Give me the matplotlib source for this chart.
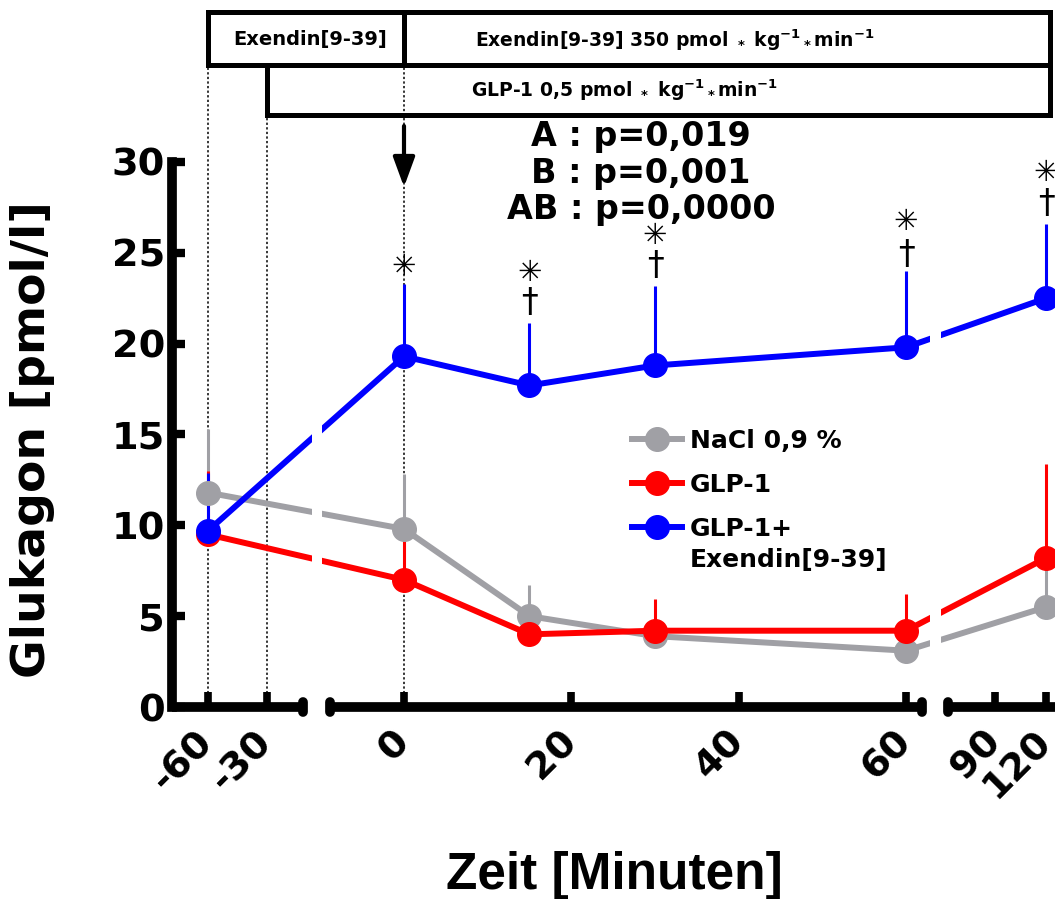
import matplotlib
matplotlib.use('Agg')
import matplotlib.pyplot as plt
import numpy as np
from matplotlib.patches import Rectangle
from matplotlib.transforms import blended_transform_factory

# Daten (Mittelwert + SEM nach oben)
zeit = [-60, 0, 15, 30, 60, 120]
nacl = [11.8, 9.8, 5.0, 3.9, 3.1, 5.5]
nacl_sem = [3.5, 3.0, 1.7, 0.4, 0.4, 2.5]
glp1 = [9.5, 7.0, 4.0, 4.2, 4.2, 8.2]
glp1_sem = [3.5, 2.8, 0.5, 1.75, 2.0, 5.2]
glp1_ex = [9.7, 19.3, 17.7, 18.8, 19.8, 22.5]
glp1_ex_sem = [3.2, 4.0, 3.45, 4.4, 4.2, 4.1]

xticks = [-60, -30, 0, 20, 40, 60, 90, 120]
xticklabels = ['-60', '-30', '0', '20', '40', '60', '90', '120']
yticks = [0, 5, 10, 15, 20, 25, 30]

# Signifikanzzeichen
stern_zeit = [0, 15, 30, 60, 120]
stern_y = [24.2, 23.9, 25.9, 26.7, 29.4]
kreuz_zeit = [15, 30, 60, 120]
kreuz_y = [22.25, 24.3, 24.9, 27.7]

W, H = 1055, 899
plt.rcParams['font.family'] = ['DejaVu Sans']
plt.rcParams['font.weight'] = 'bold'
plt.rcParams['mathtext.fontset'] = 'dejavusans'
plt.rcParams['mathtext.default'] = 'bf'

# gebrochene Zeitachse: Minuten -> Pixel
T = [-80, -60, -30, 0, 60, 90, 130]
P = [168.7, 208, 267, 404, 906, 995, 1063]


def fwd(t):
    return np.interp(t, T, P)


def inv(p):
    return np.interp(p, P, T)


def figy(py):
    return 1 - py / H


fig = plt.figure(figsize=(W / 100, H / 100), dpi=100)
ax = fig.add_axes([172 / W, figy(707), (1063 - 172) / W, (707 - 162) / H])
ax.set_xscale('function', functions=(fwd, inv))
ax.set_xlim(inv(172), 130)
ax.set_ylim(0, 30)

farben = {'nacl': '#a0a0a5', 'glp': '#ff0000', 'ex': '#0000ff'}
handles = []
for y, e, c in [(nacl, nacl_sem, farben['nacl']),
                (glp1, glp1_sem, farben['glp']),
                (glp1_ex, glp1_ex_sem, farben['ex'])]:
    cont = ax.errorbar(zeit, y, yerr=[np.zeros(len(e)), e], fmt='-o', color=c,
                       lw=4.3, ms=17, elinewidth=2.2, capsize=0, clip_on=False)
    handles.append(cont[0])

# Luecken in den Linien an den Achsenbruechen
ax.axvspan(inv(312), inv(322), color='white', zorder=3, lw=0)
ax.axvspan(inv(930), inv(941), color='white', zorder=3, lw=0)

# Achsen
for s in ['top', 'right', 'bottom']:
    ax.spines[s].set_visible(False)
ax.spines['left'].set_linewidth(7)
ax.spines['left'].set_capstyle('projecting')

for a, b in [(172, 303), (330, 922), (948, 1063)]:
    ax.plot([inv(a), inv(b)], [0, 0], color='k', lw=7, solid_capstyle='butt',
            clip_on=False, zorder=4)
for p in [303, 330, 922, 948]:
    ax.plot([inv(p), inv(p)], [-0.3, 0.3], color='k', lw=7,
            solid_capstyle='round', clip_on=False, zorder=4)

ax.set_xticks(xticks)
ax.set_xticklabels(xticklabels, rotation=45, rotation_mode='anchor',
                   ha='right', va='center', fontsize=27.5)
ax.set_yticks(yticks)
ax.set_yticklabels([str(v) for v in yticks], fontsize=27.5)
ax.tick_params(axis='x', direction='in', length=11, width=5.5, pad=21)
ax.tick_params(axis='y', direction='in', length=9.5, width=6, pad=5)
ax.minorticks_off()

# gestrichelte Hilfslinien und Kaesten oben
blend = blended_transform_factory(ax.transData, fig.transFigure)
for t, top in [(-60, 65), (-30, 115), (0, 65)]:
    ax.plot([t, t], [figy(707), figy(top)], transform=blend, color='k',
            lw=1.1, ls=(0, (1.5, 1.5)), clip_on=False, zorder=1)

rechts = inv(1050)
for x0, x1, y0, y1 in [(-60, 0, 12, 65), (0, rechts, 12, 65), (-30, rechts, 65, 115)]:
    ax.add_patch(Rectangle((x0, figy(y1)), x1 - x0, figy(y0) - figy(y1),
                           transform=blend, fill=False, lw=3.6, ec='k',
                           clip_on=False, zorder=5))

fig.text(310 / W, figy(40), 'Exendin[9-39]', ha='center', va='center', fontsize=14)
fig.text(675 / W, figy(40),
         r'Exendin[9-39] 350 pmol $_*$ kg$^{-1}$$_*$min$^{-1}$',
         ha='center', va='center', fontsize=13.5)
fig.text(625 / W, figy(90), r'GLP-1 0,5 pmol $_*$ kg$^{-1}$$_*$min$^{-1}$',
         ha='center', va='center', fontsize=13.5)

# Pfeil bei t=0
ax.annotate('', xy=(0, figy(187)), xytext=(0, figy(126)),
            xycoords=blend, textcoords=blend,
            arrowprops=dict(arrowstyle='-|>,head_length=0.6,head_width=0.22',
                            mutation_scale=30, lw=3, color='k',
                            shrinkA=0, shrinkB=0))

fig.text(641 / W, figy(173), 'A : p=0,019\nB : p=0,001\nAB : p=0,0000',
         ha='center', va='center', fontsize=24, linespacing=1.13)

for t, y in zip(stern_zeit, stern_y):
    ax.text(t, y, '\u2733', ha='center', va='center', fontsize=21,
            fontweight='normal', clip_on=False)
for t, y in zip(kreuz_zeit, kreuz_y):
    ax.text(t, y, '\u2020', ha='center', va='center', fontsize=24,
            fontweight='normal', clip_on=False)

ax.legend(handles, ['NaCl 0,9 %', 'GLP-1', 'GLP-1+'],
          loc='upper left', bbox_to_anchor=(632 / W, figy(429)),
          bbox_transform=fig.transFigure, frameon=False, fontsize=18,
          handlelength=2.0, handletextpad=0.32, labelspacing=0.8,
          borderpad=0, borderaxespad=0)
fig.text(690 / W, figy(560), 'Exendin[9-39]', ha='left', va='center', fontsize=18)

fig.text(33 / W, figy(440), 'Glukagon [pmol/l]', rotation=90, ha='center',
         va='center', fontsize=34)
fig.text(614 / W, figy(889), 'Zeit [Minuten]', ha='center', va='baseline',
         fontsize=37, family=['Liberation Sans', 'DejaVu Sans'])

fig.savefig('out.png', dpi=100)
